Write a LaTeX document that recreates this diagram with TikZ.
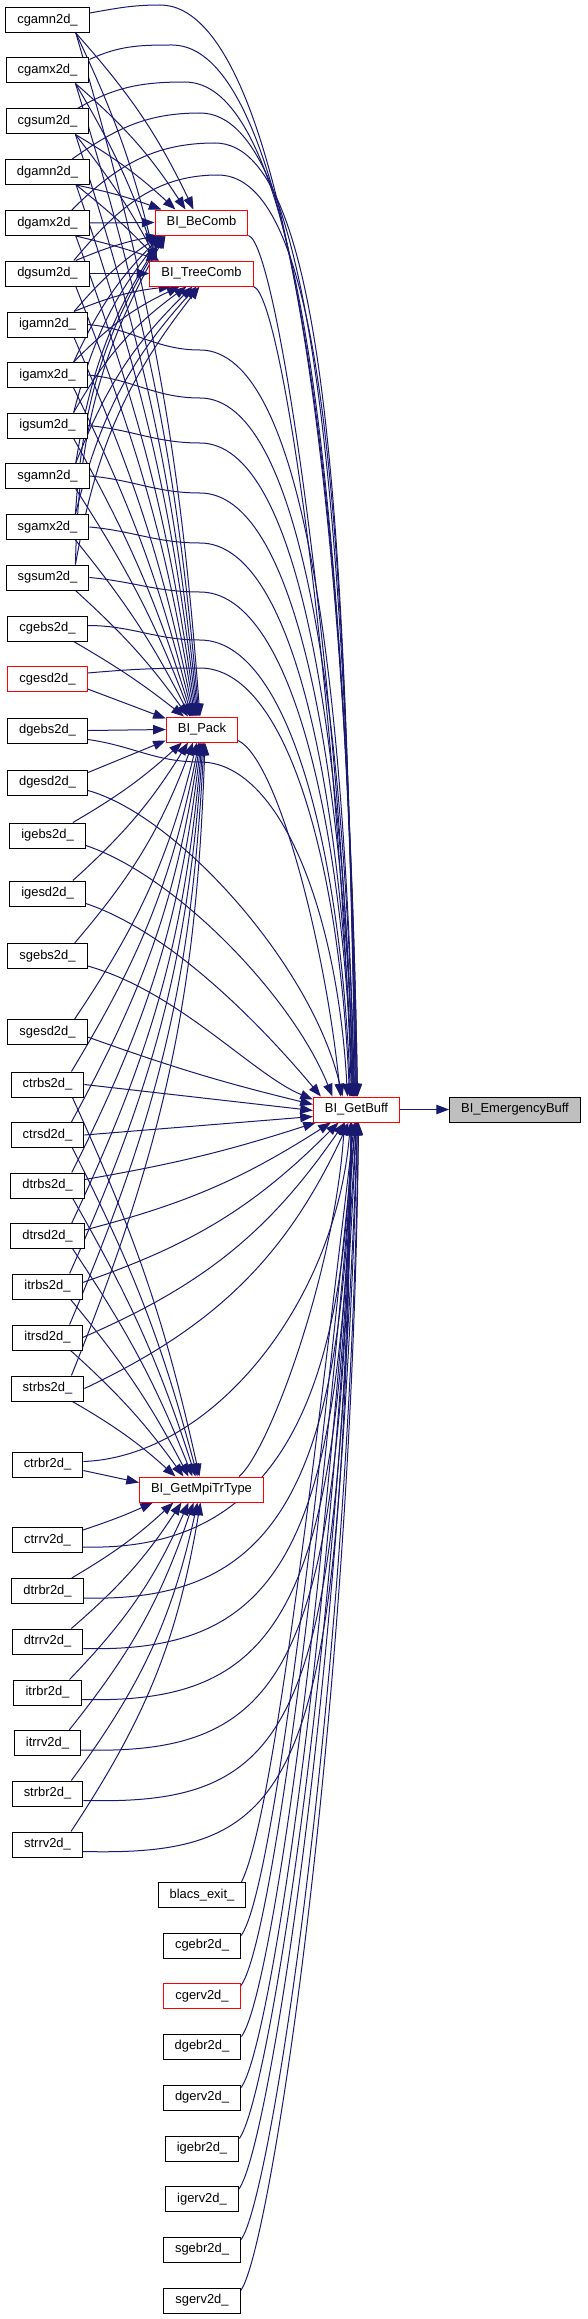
\documentclass[tikz,border=0pt]{standalone}
\usepackage{fontspec}
\setmainfont{Liberation Sans}
\usetikzlibrary{arrows.meta,calc}
\definecolor{edgec}{HTML}{191970}
\pgfdeclarelayer{bg}
\pgfsetlayers{bg,main}
\begin{document}
\begin{tikzpicture}[x=0.75pt,y=-0.75pt,
  nd/.style={draw=black,line width=0.75pt,fill=white,minimum height=18.75pt,inner xsep=8.7pt,inner ysep=0pt,font=\fontsize{9.7pt}{11.6pt}\selectfont},
  rd/.style={nd,draw=red},
  cg/.style={draw=edgec,line width=0.75pt,-{Triangle[length=9.5pt,width=7pt]}}]
\useasboundingbox (0,0) rectangle (587,2319);
% left column
\node[nd] (cgamn) at (47.5,20) {cgamn2d\_};
\node[nd] (cgamx) at (47.5,70.5) {cgamx2d\_};
\node[nd] (cgsum) at (47.5,121.5) {cgsum2d\_};
\node[nd] (dgamn) at (47.5,172) {dgamn2d\_};
\node[nd] (dgamx) at (47.5,223) {dgamx2d\_};
\node[nd] (dgsum) at (47.5,273.5) {dgsum2d\_};
\node[nd] (igamn) at (47.5,324.5) {igamn2d\_};
\node[nd] (igamx) at (47.5,375) {igamx2d\_};
\node[nd] (igsum) at (47.5,425.5) {igsum2d\_};
\node[nd] (sgamn) at (47.5,476) {sgamn2d\_};
\node[nd] (sgamx) at (47.5,527) {sgamx2d\_};
\node[nd] (sgsum) at (47.5,577.5) {sgsum2d\_};
\node[nd] (cgebs) at (47.5,628.5) {cgebs2d\_};
\node[rd] (cgesd) at (47.5,679) {cgesd2d\_};
\node[nd] (dgebs) at (47.5,730.5) {dgebs2d\_};
\node[nd] (dgesd) at (47.5,782.5) {dgesd2d\_};
\node[nd] (igebs) at (47.5,835.5) {igebs2d\_};
\node[nd] (igesd) at (47.5,893.5) {igesd2d\_};
\node[nd] (sgebs) at (47.5,956) {sgebs2d\_};
\node[nd] (sgesd) at (47.5,1032) {sgesd2d\_};
\node[nd] (ctrbs) at (47.5,1084.5) {ctrbs2d\_};
\node[nd] (ctrsd) at (47.5,1135) {ctrsd2d\_};
\node[nd] (dtrbs) at (47.5,1185.5) {dtrbs2d\_};
\node[nd] (dtrsd) at (47.5,1236) {dtrsd2d\_};
\node[nd] (itrbs) at (47.5,1286.5) {itrbs2d\_};
\node[nd] (itrsd) at (47.5,1337.5) {itrsd2d\_};
\node[nd] (strbs) at (47.5,1388.5) {strbs2d\_};
\node[nd] (ctrbr) at (47.5,1464.5) {ctrbr2d\_};
\node[nd] (ctrrv) at (47.5,1540) {ctrrv2d\_};
\node[nd] (dtrbr) at (47.5,1591) {dtrbr2d\_};
\node[nd] (dtrrv) at (47.5,1641.5) {dtrrv2d\_};
\node[nd] (itrbr) at (47.5,1692.5) {itrbr2d\_};
\node[nd] (itrrv) at (47.5,1743) {itrrv2d\_};
\node[nd] (strbr) at (47.5,1793.5) {strbr2d\_};
\node[nd] (strrv) at (47.5,1844.5) {strrv2d\_};
% middle column
\node[rd] (bc) at (201.5,222.5) {BI\_BeComb};
\node[rd] (tc) at (201.5,273.5) {BI\_TreeComb};
\node[rd] (pk) at (202,729.5) {BI\_Pack};
\node[rd] (mt) at (201.5,1489.5) {BI\_GetMpiTrType};
\node[nd] (bx) at (202,1895) {blacs\_exit\_};
\node[nd] (cgebr) at (202,1945.5) {cgebr2d\_};
\node[rd] (cgerv) at (202,1996) {cgerv2d\_};
\node[nd] (dgebr) at (202,2046.5) {dgebr2d\_};
\node[nd] (dgerv) at (202,2097.5) {dgerv2d\_};
\node[nd] (igebr) at (202,2148.5) {igebr2d\_};
\node[nd] (igerv) at (202,2199) {igerv2d\_};
\node[nd] (sgebr) at (202,2249.5) {sgebr2d\_};
\node[nd] (sgerv) at (202,2300.5) {sgerv2d\_};
% right
\node[rd] (gb) at (356.5,1109.5) {BI\_GetBuff};
\node[nd,fill=black!25] (eb) at (515,1109.5) {BI\_EmergencyBuff};

\begin{pgfonlayer}{bg}
\fill[white] (0,0) rectangle (587,2319);
\draw[cg] (gb) -- (eb);
% ---- to BeComb
\foreach \n/\t/\b in {cgamn/-8/8, cgamx/-16/8, cgsum/-26/6, dgamn/-40/4}
  \draw[cg] ($(\n.south east)+(-14,0)$) to[bend left=\b] ($(bc.north)+(\t,0)$);
\draw[cg] (dgamx.east) -- (bc.west);
\foreach \n/\t/\b in {dgsum/4/6, igamn/6/8, igamx/7/10, igsum/8/12, sgamn/9/12, sgamx/10/14, sgsum/11/14}
  \draw[cg] ($(\n.north east)+(-14,0)$) to[bend left=\b] ($(bc.south west)+(\t,0)$);
% ---- to TreeComb
\foreach \n/\t/\b in {cgamn/6/6, cgamx/7/6, cgsum/8/5, dgamn/9/4, dgamx/10/3}
  \draw[cg] ($(\n.south east)+(-14,0)$) to[bend left=\b] ($(tc.north west)+(\t,0)$);
\draw[cg] (dgsum.east) -- (tc.west);
\foreach \n/\t/\b in {igamn/-30/8, igamx/-22/10, igsum/-15/12, sgamn/-9/12, sgamx/-5/14, sgsum/-2/14}
  \draw[cg] ($(\n.north east)+(-14,0)$) to[bend left=\b] ($(tc.south)+(\t,0)$);
% ---- to Pack
\foreach \n/\t/\b in {cgamn/-2/6, cgamx/-3/6, cgsum/-4/6, dgamn/-5/6, dgamx/-6/6, dgsum/-7/6, igamn/-8/6, igamx/-9/6, igsum/-10/6, sgamn/-11/6, sgamx/-12/6, sgsum/-14/6, cgebs/-18/4}
  \draw[cg] ($(\n.south east)+(-14,0)$) to[bend left=\b] ($(pk.north)+(\t,0)$);
\draw[cg] ($(cgesd.south east)+(0,-3)$) -- ($(pk.north west)+(0,2)$);
\draw[cg] (dgebs.east) -- (pk.west);
\draw[cg] ($(dgesd.north east)+(0,3)$) -- ($(pk.south west)+(0,-2)$);
\foreach \n/\t/\b in {igebs/-20/6, igesd/-14/8, sgebs/-9/10, sgesd/-5/10, ctrbs/-3/10, ctrsd/-2/10, dtrbs/-1/10, dtrsd/0/10, itrbs/1/10, itrsd/2/10, strbs/3/10}
  \draw[cg] ($(\n.north east)+(-13,0)$) to[bend right=\b] ($(pk.south)+(\t,0)$);
% ---- to GetMpiTrType
\foreach \n/\t in {ctrbs/-2, ctrsd/-4, dtrbs/-6, dtrsd/-9, itrbs/-13, itrsd/-18, strbs/-26}
  \draw[cg] ($(\n.south east)+(-12,0)$) to[bend left=6] ($(mt.north)+(\t,0)$);
\draw[cg] ($(ctrbr.east)+(0,6)$) -- ($(mt.west)+(0,-7)$);
\draw[cg] ($(ctrrv.north east)+(0,3)$) to[bend right=3] ($(mt.south west)+(14,0)$);
\foreach \n/\t/\b in {dtrbr/-28/6, dtrrv/-20/8, itrbr/-13/10, itrrv/-8/10, strbr/-4/12, strrv/-1/12}
  \draw[cg] ($(\n.north east)+(-12,0)$) to[bend right=\b] ($(mt.south)+(\t,0)$);
% ---- to GetBuff, from above via a bend point
\foreach \n/\an/\dx/\dy/\o/\vx/\vy/\s in {
  cgamn/east/0/-7/10/160/5/1, cgamx/north east/0/2/25/172/45/1,
  cgsum/north east/-12/0/30/185/82/0, dgamn/north east/-18/0/35/200/113/0,
  dgamx/north east/-18/0/45/215/143/-1, dgsum/north east/-16/0/50/218/175/-1,
  igamn/east/0/0/-5/200/350/-2, igamx/east/0/0/-5/200/398/-2,
  igsum/east/0/0/-5/200/443/-3, sgamn/east/0/0/-5/200/493/-3,
  sgamx/east/0/0/-5/200/543/-4, sgsum/east/0/0/-5/200/592/-4,
  cgebs/east/0/-3/0/200/640/-6, cgesd/east/0/-6/5/200/668/-7,
  dgebs/east/0/9/-8/200/762/-9}
  \draw[cg] ($(\n.\an)+(\dx,\dy)$) to[out=\o,in=180] (\vx,\vy)
     .. controls +({60+0.06*(1097-\vy)},0) and +(-10,{-0.55*(1097-\vy)}) .. ($(gb.north)+(\s,0)$);
\draw[cg] (bc.south east) .. controls +(30,8) and +(-12,-400) .. ($(gb.north)+(-3,0)$);
\draw[cg] (tc.south east) .. controls +(30,10) and +(-12,-380) .. ($(gb.north)+(-5,0)$);
\draw[cg] ($(pk.south east)+(0,-2)$) .. controls +(40,20) and +(-15,-150) .. ($(gb.north)+(-16,0)$);
\draw[cg] ($(dgesd.east)+(0,8)$) .. controls +(90,25) and +(-30,-130) .. ($(gb.north)+(-14,0)$);
\draw[cg] ($(igebs.east)+(0,10)$) .. controls +(90,30) and +(-40,-100) .. ($(gb.north)+(-24,0)$);
\draw[cg] ($(igesd.east)+(0,10)$) .. controls +(90,30) and +(-50,-60) .. ($(gb.north west)+(8,0)$);
\draw[cg] ($(sgebs.east)+(0,10)$) .. controls +(90,25) and +(-60,-25) .. ($(gb.west)+(0,-10)$);
% ---- to GetBuff, from the left
\draw[cg] ($(sgesd.east)+(0,5)$) to[bend right=3] ($(gb.west)+(0,-5)$);
\draw[cg] (ctrbs.east) -- ($(gb.west)+(0,1)$);
\draw[cg] (ctrsd.east) -- ($(gb.west)+(0,7)$);
\draw[cg] ($(dtrbs.east)+(0,-6)$) to[bend right=4] ($(gb.south west)+(3,0)$);
\draw[cg] ($(dtrsd.east)+(0,-6)$) to[bend right=9] ($(gb.south west)+(18,0)$);
\draw[cg] ($(itrbs.east)+(0,-4)$) to[bend right=13] ($(gb.south)+(-18,0)$);
\draw[cg] (itrsd.east) to[bend right=16] ($(gb.south)+(-12,0)$);
\draw[cg] (strbs.east) to[bend right=20] ($(gb.south)+(-8,0)$);
\draw[cg] ($(ctrbr.east)+(0,-3)$) .. controls +(130,-5) and +(-15,180) .. ($(gb.south)+(-6,0)$);
\foreach \n/\a/\h in {ctrrv/180/300, dtrbr/190/370, dtrrv/195/430, itrbr/200/490, itrrv/205/550, strbr/210/610, strrv/215/670}
  \draw[cg] ($(\n.east)+(0,7)$) .. controls +(\a,5) and +(-8,\h) .. ($(gb.south)+(-5,0)$);
\draw[cg] ($(mt.north east)+(-25,0)$) .. controls +(30,-25) and +(-10,150) .. ($(gb.south)+(-12,0)$);
% ---- to GetBuff, from below
\draw[cg] ($(bx.north east)+(-5,0)$) .. controls +(30,-60) and +(-45,380) .. ($(gb.south)+(-2,0)$);
\foreach \n/\dd/\h/\s in {cgebr/40/405/-1, cgerv/34/430/-1, dgebr/28/456/0, dgerv/22/481/0, igebr/17/507/1, igerv/13/532/1, sgebr/9/557/2, sgerv/6/583/2}
  \draw[cg] ($(\n.north east)+(0,3)$) .. controls +(30,-40) and +(-\dd,\h) .. ($(gb.south)+(\s,0)$);
\end{pgfonlayer}
\end{tikzpicture}
\end{document}
